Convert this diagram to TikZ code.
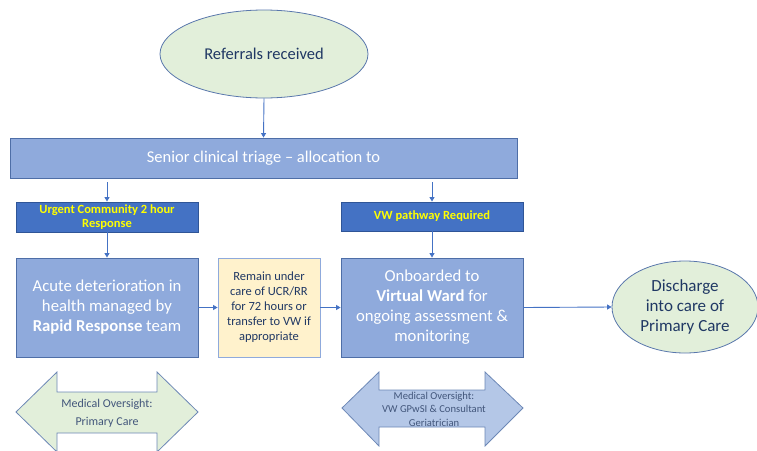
\documentclass[tikz,border=0pt]{standalone}
\usepackage{fontspec}
\setmainfont{Carlito}
\usetikzlibrary{shapes.geometric,arrows.meta}

\definecolor{navy}{HTML}{203864}
\definecolor{midblue}{HTML}{4472C4}
\definecolor{darkedge}{HTML}{2F5597}
\definecolor{softblue}{HTML}{8FAADC}
\definecolor{paleblue}{HTML}{B4C7E7}
\definecolor{palegreen}{HTML}{E2EFDA}
\definecolor{paleyellow}{HTML}{FFF2CC}
\definecolor{brightyellow}{HTML}{FFFF00}

\tikzset{
  flow/.style={draw=midblue, line width=0.9pt, -{Triangle[width=5pt,length=4.5pt]}},
  terminal/.style={ellipse, draw=darkedge!80, line width=0.8pt, fill=palegreen,
    text=navy, inner sep=0pt, align=center},
  stage/.style={rectangle, draw=darkedge!85, line width=0.9pt, fill=softblue,
    text=white, inner sep=0pt, align=center, font=\fontsize{16.7}{20}\selectfont},
  banner/.style={rectangle, draw=darkedge, line width=0.9pt, fill=midblue,
    text=brightyellow, inner sep=0pt, align=center,
    font=\fontsize{12.5}{14}\selectfont\bfseries},
  holdbox/.style={rectangle, draw=softblue, line width=0.9pt, fill=paleyellow,
    text=navy, inner sep=0pt, align=center, font=\fontsize{12.5}{15}\selectfont},
  oversight/.style={draw=darkedge!70, line width=0.8pt},
  oversightlabel/.style={text=navy!85, align=center},
}

\begin{document}
\begin{tikzpicture}[x=1pt, y=-1pt]
  \useasboundingbox (0,0) rectangle (757,450);

  % entry point
  \node[terminal, minimum width=208pt, minimum height=88pt,
        font=\fontsize{16.5}{20}\selectfont] (ref) at (264,54) {Referrals received};

  % triage bar
  \node[stage, minimum width=507pt, minimum height=40pt,
        font=\fontsize{16.5}{20}\selectfont] (triage) at (263.5,158)
        {Senior clinical triage -- allocation to};

  % pathway banners
  \node[banner, minimum width=182pt, minimum height=30pt] (ucr) at (107,217)
        {Urgent Community 2 hour\\Response};
  \node[banner, minimum width=182pt, minimum height=29pt] (vwp) at (432,216.5)
        {VW pathway Required};

  % main stages
  \node[stage, minimum width=182pt, minimum height=99pt] (acute) at (107,307.5)
        {Acute deterioration in\\health managed by\\\textbf{Rapid Response} team};
  \node[holdbox, minimum width=102pt, minimum height=99pt] (hold) at (269,307.5)
        {Remain under\\care of UCR/RR\\for 72 hours or\\transfer to VW if\\appropriate};
  \node[stage, minimum width=182pt, minimum height=99pt] (vw) at (432,307.5)
        {Onboarded to\\\textbf{Virtual Ward} for\\ongoing assessment \&\\monitoring};

  % exit point
  \node[terminal, minimum width=146pt, minimum height=92pt,
        font=\fontsize{17}{20}\selectfont] (dis) at (685,307)
        {Discharge\\into care of\\Primary Care};

  % connectors
  \draw[flow] (ref.south) -- (triage.north);
  \draw[flow] ([shift={(0,4)}]triage.south -| ucr.north) -- (ucr.north);
  \draw[flow] ([shift={(0,4)}]triage.south -| vwp.north) -- (vwp.north);
  \draw[flow] (ucr.south) -- (acute.north);
  \draw[flow] (vwp.south) -- (vw.north);
  \draw[flow] (acute.east) -- (hold.west);
  \draw[flow] (hold.east) -- (vw.west);
  \draw[flow] (vw.east) -- (dis.west);

  % oversight double arrows
  \draw[oversight, fill=palegreen]
    (16,412) -- (57,372) -- (57,392) -- (157,392) -- (157,372) -- (198,412)
    -- (157,452) -- (157,433) -- (57,433) -- (57,452) -- cycle;
  \node[oversightlabel, font=\fontsize{12}{18}\selectfont] (ovl) at (107,413)
    {Medical Oversight:\\Primary Care};

  \draw[oversight, fill=paleblue]
    (342,408) -- (379,372) -- (379,390) -- (485,390) -- (485,372) -- (523,408)
    -- (485,446) -- (485,427) -- (379,427) -- (379,446) -- cycle;
  \node[oversightlabel, font=\fontsize{10.6}{13.5}\selectfont] (ovr) at (434,409)
    {Medical Oversight:\\VW GPwSI \& Consultant\\Geriatrician};
\end{tikzpicture}
\end{document}
